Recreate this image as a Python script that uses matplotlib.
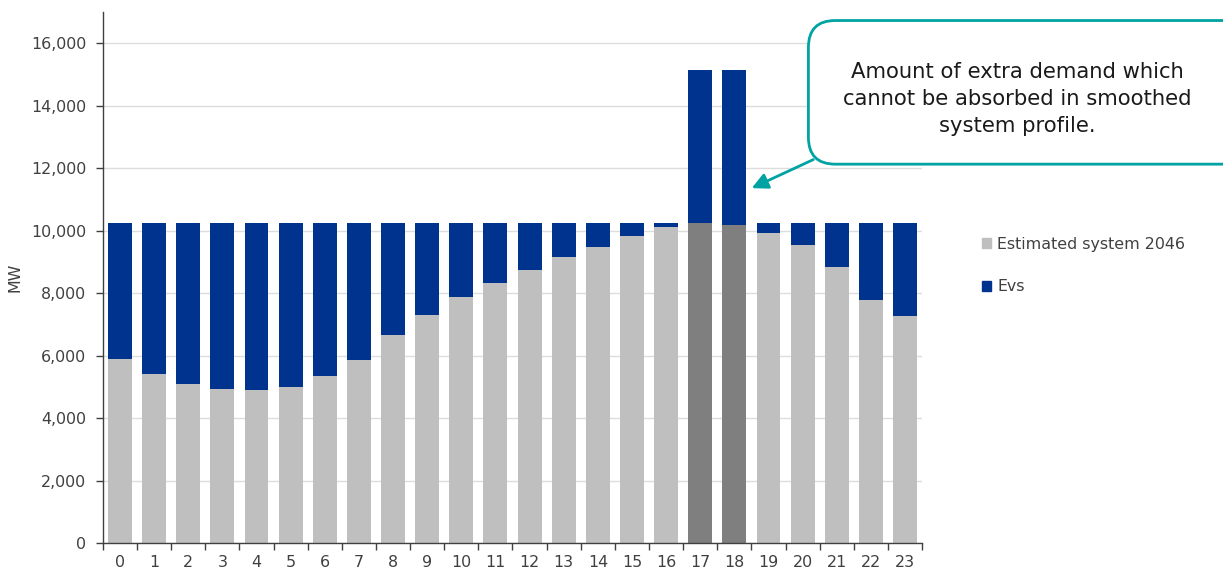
import numpy as np
import matplotlib.pyplot as plt
from matplotlib.patches import FancyBboxPatch, Patch

# Hourly demand profile (MW)
hours = list(range(24))
system_2046 = [5880, 5410, 5100, 4940, 4910, 5000, 5340, 5850, 6660, 7310,
               7870, 8310, 8750, 9150, 9460, 9830, 10110, 10240, 10180, 9930,
               9550, 8830, 7780, 7280]
evs = [4360, 4830, 5140, 5300, 5330, 5240, 4900, 4390, 3580, 2930,
       2370, 1930, 1490, 1090, 780, 410, 130, 4910, 4970, 310,
       690, 1410, 2460, 2960]
peak_hours = [17, 18]

light_grey = '#BFBFBF'
dark_grey = '#7F7F7F'
blue = '#00338D'
teal = '#00A3A1'
text_col = '#404040'

plt.rcParams['font.family'] = 'DejaVu Sans'

fig = plt.figure(figsize=(12.23, 5.70), dpi=100)
ax = fig.add_axes([0.0842, 0.0474, 0.6697, 0.9316])

base_colors = [dark_grey if h in peak_hours else light_grey for h in hours]
ax.bar(hours, system_2046, width=0.7, color=base_colors, zorder=2)
ax.bar(hours, evs, width=0.7, bottom=system_2046, color=blue, zorder=2)

ax.set_xlim(-0.5, 23.5)
ax.set_ylim(0, 17000)
ax.set_yticks(range(0, 16001, 2000))
ax.set_yticklabels([f"{v:,}" for v in range(0, 16001, 2000)])
ax.yaxis.grid(True, color='#DDDDDD', linewidth=1, zorder=0)
ax.set_axisbelow(True)

# category boundaries get the tick marks, centres get the labels
ax.set_xticks(np.arange(-0.5, 24, 1))
ax.set_xticklabels([])
ax.set_xticks(hours, minor=True)
ax.set_xticklabels([str(h) for h in hours], minor=True)
ax.tick_params(axis='x', which='major', length=5, width=1, color=text_col)
ax.tick_params(axis='x', which='minor', length=0, pad=9, labelsize=11.4, labelcolor=text_col)
ax.tick_params(axis='y', length=5, width=1, color=text_col, pad=7, labelsize=11.4, labelcolor=text_col)

for side in ['top', 'right']:
    ax.spines[side].set_visible(False)
for side in ['left', 'bottom']:
    ax.spines[side].set_color(text_col)
    ax.spines[side].set_linewidth(1)

ax.set_ylabel('MW', fontsize=11.4, color=text_col, labelpad=6)

handles = [Patch(color=light_grey), Patch(color=blue)]
fig.legend(handles, ['Estimated system 2046', 'Evs'], loc='upper left',
           bbox_to_anchor=(0.791, 0.61), frameon=False, fontsize=11.4,
           handlelength=0.6, handleheight=0.6, handletextpad=0.4,
           labelspacing=1.75, labelcolor=text_col)

# callout box
box = FancyBboxPatch((0.661, 0.712), 0.36, 0.252, transform=fig.transFigure,
                     boxstyle='round,pad=0,rounding_size=0.022',
                     facecolor='white', edgecolor=teal, linewidth=2,
                     mutation_aspect=2.146, zorder=5, clip_on=False)
fig.patches.append(box)
fig.text(0.832, 0.826, 'Amount of extra demand which\ncannot be absorbed in smoothed\nsystem profile.',
         ha='center', va='center', fontsize=15.2, color='#1A1A1A',
         linespacing=1.45, zorder=6)

ax.annotate('', xy=(18.51, 11360), xytext=(0.665, 0.72),
            textcoords='figure fraction',
            arrowprops=dict(arrowstyle='-|>', color=teal, lw=2,
                            mutation_scale=24, shrinkA=0, shrinkB=0),
            annotation_clip=False, zorder=6)

fig.savefig('out.png', dpi=100)
